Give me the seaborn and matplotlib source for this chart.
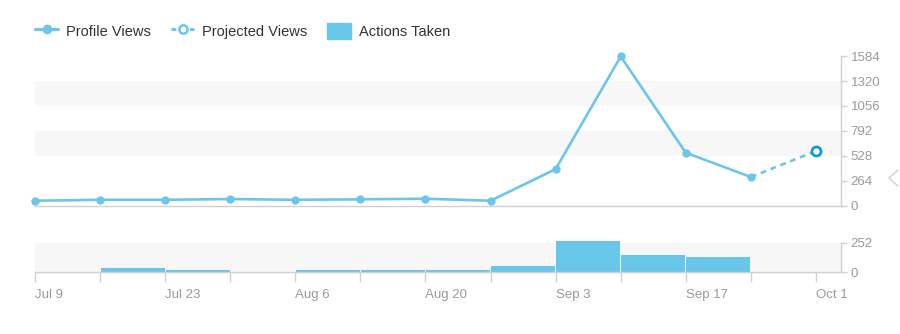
import matplotlib
matplotlib.use("Agg")
import matplotlib.pyplot as plt
import matplotlib.dates as mdates
from matplotlib.lines import Line2D
from matplotlib.patches import Patch
import seaborn as sns
import pandas as pd
import numpy as np

# Weekly profile data
weeks = ["2018-07-09", "2018-07-16", "2018-07-23", "2018-07-30", "2018-08-06",
         "2018-08-13", "2018-08-20", "2018-08-27", "2018-09-03", "2018-09-10",
         "2018-09-17", "2018-09-24", "2018-10-01"]
profile_views = [53, 63, 63, 71, 63, 68, 74, 53, 388, 1580, 561, 304]
projected_weeks = ["2018-09-24", "2018-10-01"]
projected_views = [304, 579]
# Actions per week (bar spans the week starting at the given date)
actions_taken = [0, 34, 17, 0, 17, 22, 22, 54, 266, 150, 128, 0]

view_ticks = [0, 264, 528, 792, 1056, 1320, 1584]
action_ticks = [0, 252]
label_weeks = ["2018-07-09", "2018-07-23", "2018-08-06", "2018-08-20",
               "2018-09-03", "2018-09-17", "2018-10-01"]
label_text = ["Jul 9", "Jul 23", "Aug 6", "Aug 20", "Sep 3", "Sep 17", "Oct 1"]

LINE = "#6cc6ea"
BAR = "#69c6eb"
RING = "#1598d6"
GRID = "#f7f7f7"
AXIS = "#d0d0d0"
TEXT = "#9a9a9a"

sns.set_style("white")
plt.rcParams["font.family"] = ["Liberation Sans", "DejaVu Sans"]

wk = mdates.date2num(pd.to_datetime(weeks))
df_views = pd.DataFrame({"x": wk[:len(profile_views)], "views": profile_views})
df_proj = pd.DataFrame({"x": mdates.date2num(pd.to_datetime(projected_weeks)),
                        "views": projected_views})
# bars sit in the middle of their week
df_actions = pd.DataFrame({"x": wk[:len(actions_taken)] + 3.5,
                           "actions": actions_taken})

fig = plt.figure(figsize=(9, 3.34), dpi=100)
ax = fig.add_axes([0.0389, 0.384, 0.8956, 0.448])
axb = fig.add_axes([0.0389, 0.1847, 0.8956, 0.0886])

xmin = wk[0]
xmax = wk[-1] + 2.7

# --- top: profile views
for lo, hi in [(528, 792), (1056, 1320)]:
    ax.axhspan(lo, hi, color=GRID, lw=0, zorder=0)
sns.lineplot(data=df_views, x="x", y="views", ax=ax, color=LINE, lw=1.9,
             marker="o", markersize=6, markeredgewidth=0, zorder=3,
             clip_on=False)
sns.lineplot(data=df_proj, x="x", y="views", ax=ax, color=LINE, lw=1.9,
             linestyle=(0, (2.2, 1.8)), zorder=2)
ax.plot(df_proj["x"].iloc[-1], df_proj["views"].iloc[-1], marker="o",
        markersize=6.5, markerfacecolor="white", markeredgecolor=RING,
        markeredgewidth=2, zorder=4, clip_on=False)
ax.set_xlim(xmin, xmax)
ax.set_ylim(0, 1584)
ax.set_yticks(view_ticks)
ax.set_yticklabels([str(v) for v in view_ticks])
ax.yaxis.tick_right()
ax.set_xticks([])
ax.set_xlabel("")
ax.set_ylabel("")
for s in ["top", "left"]:
    ax.spines[s].set_visible(False)
for s in ["bottom", "right"]:
    ax.spines[s].set_color(AXIS)
    ax.spines[s].set_linewidth(1)
ax.tick_params(axis="y", colors=AXIS, labelcolor=TEXT, labelsize=9.5,
               length=4, width=1, pad=3, right=True, left=False)

# --- bottom: actions taken
axb.axhspan(0, 252, color=GRID, lw=0, zorder=0)
sns.barplot(data=df_actions, x="x", y="actions", ax=axb, native_scale=True,
            width=0.985, color=BAR, saturation=1, linewidth=0,
            errorbar=None, zorder=2)
for p in axb.patches:
    p.set_clip_on(False)
axb.set_xlim(xmin, xmax)
axb.set_ylim(0, 252)
axb.set_yticks(action_ticks)
axb.set_yticklabels([str(v) for v in action_ticks])
axb.yaxis.tick_right()
axb.set_xticks(wk)
lab = list(mdates.date2num(pd.to_datetime(label_weeks)))
axb.set_xticklabels([label_text[lab.index(x)] if x in lab else "" for x in wk],
                    ha="left")
axb.set_xlabel("")
axb.set_ylabel("")
for s in ["top", "left"]:
    axb.spines[s].set_visible(False)
for s in ["bottom", "right"]:
    axb.spines[s].set_color(AXIS)
    axb.spines[s].set_linewidth(1)
axb.tick_params(axis="y", colors=AXIS, labelcolor=TEXT, labelsize=9.5,
                length=4, width=1, pad=3, right=True, left=False)
axb.tick_params(axis="x", colors=AXIS, labelcolor=TEXT, labelsize=9.5,
                length=7, width=1, pad=5, bottom=True)

# legend
handles = [
    Line2D([0], [0], color=LINE, lw=2.2, marker="o", markersize=7,
           markeredgewidth=0),
    Line2D([0], [0], color=LINE, lw=2.2, linestyle=(0, (1.6, 1.4)), marker="o",
           markersize=6, markerfacecolor="white", markeredgecolor=LINE,
           markeredgewidth=1.8),
    Patch(facecolor=BAR, edgecolor=BAR),
]
fig.legend(handles, ["Profile Views", "Projected Views", "Actions Taken"],
           loc="center left", bbox_to_anchor=(0.039, 0.908), ncol=3,
           frameon=False, fontsize=10.5, labelcolor="#333333",
           handlelength=1.6, handleheight=1.3, handletextpad=0.55,
           columnspacing=1.35, borderaxespad=0, borderpad=0)

# side collapse arrow
fig.add_artist(Line2D([898 / 900, 889 / 900, 898 / 900],
                      [1 - 170 / 334, 1 - 178 / 334, 1 - 186 / 334],
                      color="#cccccc", lw=1, transform=fig.transFigure))

fig.savefig("out.png", dpi=100)
